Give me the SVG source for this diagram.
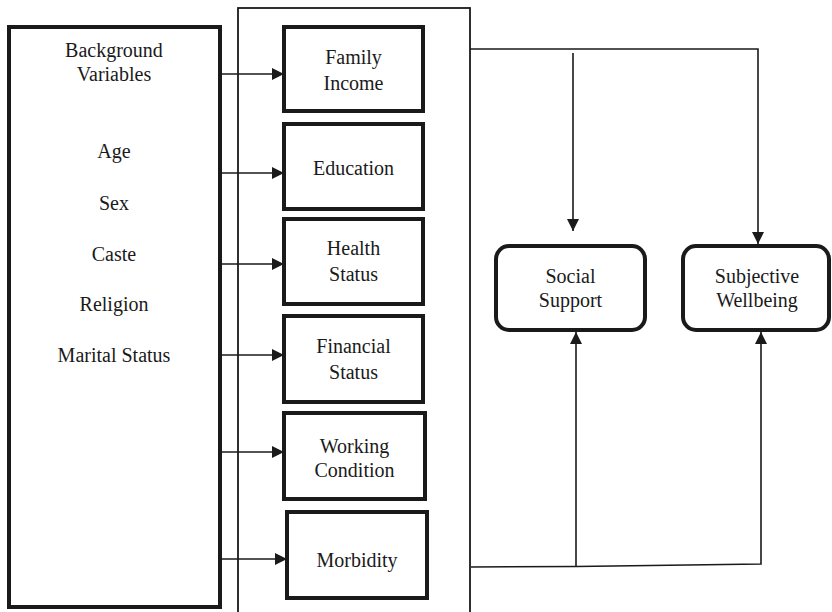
<svg xmlns="http://www.w3.org/2000/svg" width="832" height="612" viewBox="0 0 832 612">
<style>
text{font-family:'Liberation Serif','Times New Roman',Tinos,'Noto Serif','DejaVu Serif','Nimbus Roman','FreeSerif',serif;font-size:20px;fill:#1a1a1a;text-anchor:middle}
.box{fill:#fff;stroke:#1a1a1a;stroke-width:4}
.cont{fill:none;stroke:#1a1a1a;stroke-width:1.8}
.ln{fill:none;stroke:#1a1a1a;stroke-width:1.6}
</style>
<defs>
<marker id="ah" viewBox="0 0 10 10" refX="10" refY="5" markerWidth="12" markerHeight="12" markerUnits="userSpaceOnUse" orient="auto">
<path d="M0,0 L10,5 L0,10 Z" fill="#1a1a1a"/>
</marker>
</defs>
<rect class="cont" x="238" y="8" width="232" height="610"/>
<g id="background">
<rect class="box" x="9" y="27" width="211" height="580"/>
<text x="114" y="57">Background</text>
<text x="114" y="81">Variables</text>
<text x="114" y="158">Age</text>
<text x="114" y="210">Sex</text>
<text x="114" y="261">Caste</text>
<text x="114" y="311">Religion</text>
<text x="114" y="362">Marital Status</text>
</g>
<g id="family-income">
<rect class="box" x="284" y="27" width="139" height="84"/>
<text x="353.5" y="64">Family</text>
<text x="353.5" y="90">Income</text>
</g>
<g id="education">
<rect class="box" x="284" y="124" width="139" height="85"/>
<text x="353.5" y="175">Education</text>
</g>
<g id="health-status">
<rect class="box" x="284" y="219" width="139" height="85"/>
<text x="353.5" y="255">Health</text>
<text x="353.5" y="281">Status</text>
</g>
<g id="financial-status">
<rect class="box" x="284" y="316" width="139" height="86"/>
<text x="353.5" y="353">Financial</text>
<text x="353.5" y="379">Status</text>
</g>
<g id="working-condition">
<rect class="box" x="284" y="413" width="141" height="86"/>
<text x="354.5" y="453">Working</text>
<text x="354.5" y="477">Condition</text>
</g>
<g id="morbidity">
<rect class="box" x="287" y="512" width="140" height="86"/>
<text x="357" y="567">Morbidity</text>
</g>
<g id="social-support">
<rect class="box" x="496" y="246" width="149" height="84" rx="13"/>
<text x="570.5" y="283">Social</text>
<text x="570.5" y="307">Support</text>
</g>
<g id="subjective-wellbeing">
<rect class="box" x="683" y="246" width="146" height="84" rx="13"/>
<text x="757" y="283">Subjective</text>
<text x="757" y="307">Wellbeing</text>
</g>
<g id="connectors">
<line class="ln" x1="221" y1="74" x2="284" y2="74" marker-end="url(#ah)"/>
<line class="ln" x1="221" y1="173" x2="284" y2="173" marker-end="url(#ah)"/>
<line class="ln" x1="221" y1="264" x2="284" y2="264" marker-end="url(#ah)"/>
<line class="ln" x1="221" y1="355" x2="284" y2="355" marker-end="url(#ah)"/>
<line class="ln" x1="221" y1="452" x2="284" y2="452" marker-end="url(#ah)"/>
<line class="ln" x1="221" y1="559" x2="287" y2="559" marker-end="url(#ah)"/>
<polyline class="ln" points="470,49 758,49 758,244" marker-end="url(#ah)"/>
<line class="ln" x1="573" y1="53" x2="573" y2="231" marker-end="url(#ah)"/>
<polyline class="ln" points="471,567 576,566.5 761,564 761,332" marker-end="url(#ah)"/>
<line class="ln" x1="576" y1="566.5" x2="576" y2="332" marker-end="url(#ah)"/>
</g>
</svg>
